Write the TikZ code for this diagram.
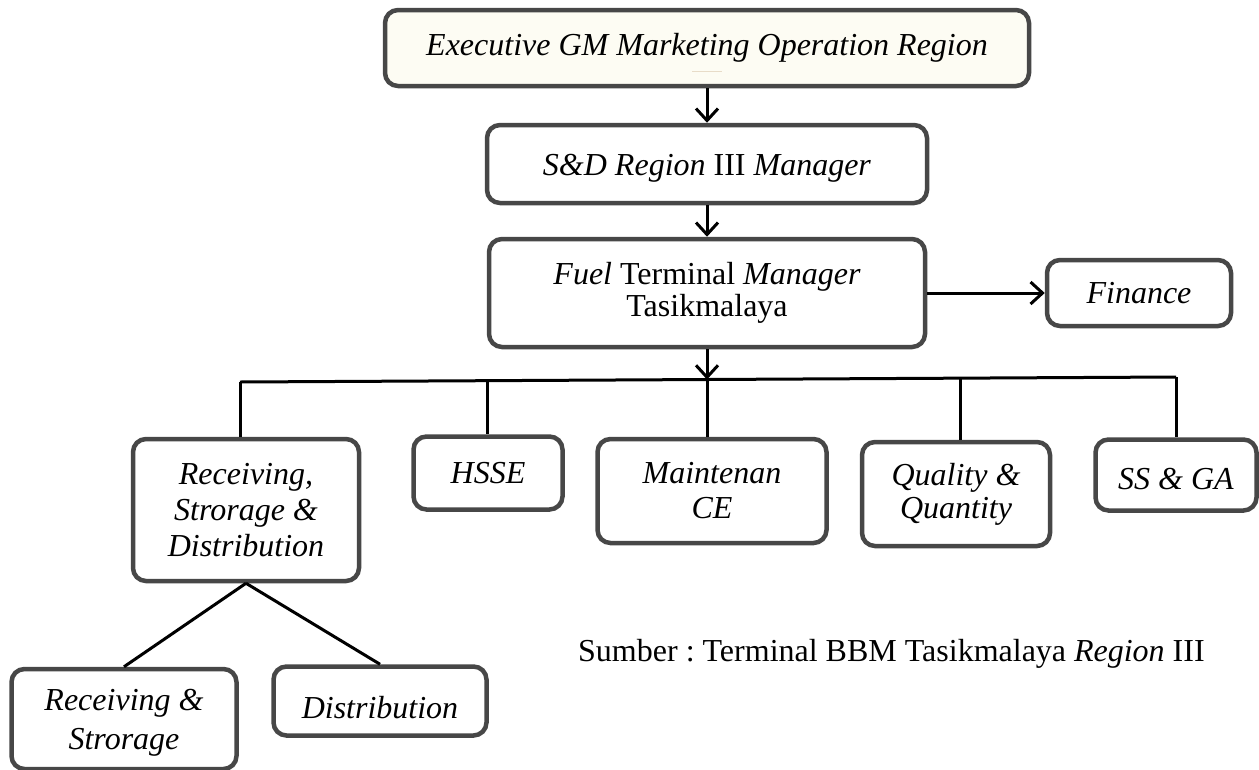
\documentclass[tikz,border=0pt]{standalone}
\usepackage{fontspec}
\setmainfont{Liberation Serif}
\usetikzlibrary{arrows.meta}
\definecolor{boxgray}{HTML}{474747}
\definecolor{creamfill}{HTML}{FDFCF3}
\definecolor{faintline}{HTML}{E8DCC8}
\begin{document}
\begin{tikzpicture}[x=1pt,y=-1pt,
  orgbox/.style={draw=boxgray, line width=4.5pt, rounded corners=13pt, fill=white, inner sep=0pt, align=center, font=\fontsize{32}{36}\selectfont},
  conn/.style={draw=black, line width=3pt},
  arr/.style={conn, -{Straight Barb[length=12pt,width=22pt,line width=3pt]}},
  srctext/.style={anchor=west, inner sep=0pt, font=\fontsize{32}{36}\selectfont}
]
\useasboundingbox (0,0) rectangle (1259,769);
% top chain
\node[orgbox, fill=creamfill, minimum width=644, minimum height=76] (exec) at (707,48) {\textit{Executive GM Marketing Operation Region}};
\draw[faintline, line width=0.8pt] (692,71) -- (722,71);
\node[orgbox, minimum width=440, minimum height=78, text height=26pt, text depth=4pt] (sd) at (707,164) {\textit{S\&D Region} III \textit{Manager}};
\node[orgbox, minimum width=436, minimum height=108, font=\fontsize{32}{32}\selectfont] (fuel) at (707,293) {\textit{Fuel} Terminal \textit{Manager}\\Tasikmalaya};
\node[orgbox, minimum width=184, minimum height=66] (fin) at (1139,293) {\textit{Finance}};
% second level
\node[orgbox, minimum width=226, minimum height=142] (recv) at (246,510) {\textit{Receiving,}\\\textit{Strorage \&}\\\textit{Distribution}};
\node[orgbox, minimum width=149, minimum height=73] (hsse) at (488,473) {\textit{HSSE}};
\node[orgbox, minimum width=229, minimum height=104, font=\fontsize{32}{35}\selectfont] (maint) at (712,491) {\textit{Maintenan}\\\textit{CE}};
\node[orgbox, minimum width=188, minimum height=104, font=\fontsize{32}{33}\selectfont] (qq) at (956,494) {\textit{Quality \&}\\\textit{Quantity}};
\node[orgbox, minimum width=161, minimum height=71, text height=28pt, text depth=0pt] (ssga) at (1176,475) {\textit{SS \& GA}};
% third level
\node[orgbox, minimum width=225, minimum height=100, font=\fontsize{32}{39}\selectfont, text depth=0pt] (rs) at (124,719) {\textit{Receiving \&}\\\textit{Strorage}};
\node[orgbox, minimum width=213, minimum height=69, text height=34pt, text depth=0pt] (dist) at (380,701) {\textit{Distribution}};
% source note
\node[srctext] (src) at (578,654) {Sumber :\ Terminal BBM Tasikmalaya \textit{Region} III};
% connectors
\draw[arr] (exec.south) -- (sd.north);
\draw[arr] (sd.south) -- (fuel.north);
\draw[arr] (fuel.east) -- (fuel.east -| fin.west);
\coordinate (j1) at (240,382);
\coordinate (j2) at (487,380.7);
\coordinate (j3) at (707,379.5);
\coordinate (j4) at (960,378.2);
\coordinate (j5) at (1176,377);
\draw[arr] (fuel.south) -- (j3);
\draw[conn] (j1) -- (j5);
\draw[conn] (j1) -- (j1 |- recv.north);
\draw[conn] (j2) -- (j2 |- hsse.north);
\draw[conn] (j3) -- (j3 |- maint.north);
\draw[conn] (j4) -- (j4 |- qq.north);
\draw[conn] (j5) -- (j5 |- ssga.north);
\draw[conn] (recv.south) -- (rs.north);
\draw[conn] (recv.south) -- (dist.north);
\end{tikzpicture}
\end{document}
